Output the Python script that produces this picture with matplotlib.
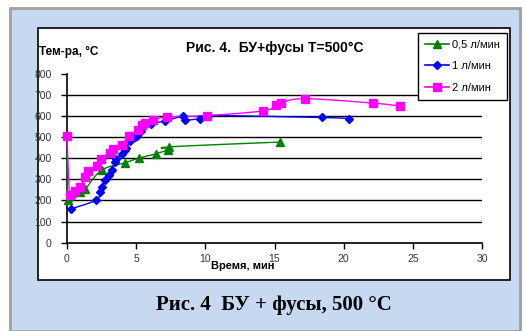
import matplotlib.pyplot as plt
from matplotlib.patches import Rectangle
import numpy as np

# time (min) and temperature (C) for each flow rate
t_05 = [0, 0.1, 0.95, 1.3, 2.5, 4.2, 5.2, 6.4, 7.3, 7.4, 15.4]
T_05 = [420, 200, 240, 252, 343, 378, 400, 420, 440, 453, 476]

t_1 = [0.3, 2.1, 2.4, 2.55, 2.75, 3.05, 3.25, 3.45, 3.55, 3.95, 4.2, 4.3, 4.55, 4.9,
       5.05, 5.35, 6.1, 7.1, 8.4, 8.5, 9.6, 10.2, 18.4, 20.4]
T_1 = [160, 201, 238, 265, 295, 320, 343, 380, 395, 418, 440, 450, 480, 500,
       505, 527, 560, 576, 598, 580, 587, 601, 592, 587]

t_2 = [0, 0.2, 0.58, 0.95, 1.3, 1.55, 2.15, 2.45, 3.1, 3.35, 3.95, 4.45, 5.15,
       5.4, 5.65, 6.25, 7.2, 10.1, 14.15, 15.1, 15.45, 17.2, 22.15, 24.1]
T_2 = [505, 225, 245, 262, 311, 340, 362, 398, 426, 445, 461, 505, 535,
       555, 566, 579, 594, 601, 623, 650, 662, 681, 660, 646]

labels = ['0,5 л/мин', '1 л/мин', '2 л/мин']
colors = ['#008000', '#0000FF', '#FF00FF']
markers = ['^', 'D', 's']


def smooth(x, y, n=12):
    # catmull-rom through the points, like excel smoothed lines
    x = np.asarray(x, float) / 30.0
    y = np.asarray(y, float) / 800.0 * 0.55
    p = np.column_stack([x, y])
    p = np.vstack([p[0], p, p[-1]])
    out = []
    for i in range(1, len(p) - 2):
        p0, p1, p2, p3 = p[i - 1], p[i], p[i + 1], p[i + 2]
        for s in np.linspace(0, 1, n, endpoint=False):
            out.append(0.5 * ((2 * p1) + (-p0 + p2) * s
                              + (2 * p0 - 5 * p1 + 4 * p2 - p3) * s ** 2
                              + (-p0 + 3 * p1 - 3 * p2 + p3) * s ** 3))
    out.append(p[-2])
    out = np.array(out)
    return out[:, 0] * 30.0, out[:, 1] / 0.55 * 800.0


W, H = 526, 331
fig = plt.figure(figsize=(W / 100, H / 100), dpi=100)
fig.patch.set_facecolor('white')

# light blue panel and white chart box (behind the axes)
fig.patches.append(Rectangle((10 / W, 0), 510 / W, 1 - 8 / H, transform=fig.transFigure,
                             facecolor='#C6D9F0', edgecolor='#A0A0A0', lw=2, zorder=-2))
fig.patches.append(Rectangle((38 / W, 1 - 280 / H), 472 / W, 252 / H, transform=fig.transFigure,
                             facecolor='white', edgecolor='black', lw=1.2, zorder=-1))

ax = fig.add_axes([67 / W, 1 - 242.7 / H, 415 / W, 169.2 / H])
ax.set_facecolor('none')

for (tx, ty), c, m, lab in zip([(t_05, T_05), (t_1, T_1), (t_2, T_2)], colors, markers, labels):
    sx, sy = smooth(tx, ty)
    ax.plot(sx, sy, color=c, lw=1, zorder=3, clip_on=False)
    ms = 4 if m == 'D' else 5.5
    if c == '#008000':
        ax.plot(tx[1:], ty[1:], ls='none', marker=m, color=c, ms=ms, zorder=4, clip_on=False)
    else:
        ax.plot(tx, ty, ls='none', marker=m, color=c, ms=ms, zorder=4, clip_on=False)
    ax.plot([], [], color=c, marker=m, ms=ms, lw=1.2, label=lab)

ax.set_xlim(0, 30)
ax.set_ylim(0, 800)
ax.set_xticks(range(0, 31, 5))
ax.set_yticks(range(0, 801, 100))
for v in range(100, 800, 100):
    ax.axhline(v, color='black', lw=1, zorder=2)
for s in ['top', 'right']:
    ax.spines[s].set_visible(False)
ax.spines['left'].set_linewidth(1.2)
ax.spines['bottom'].set_linewidth(1.2)
ax.tick_params(direction='out', length=4, width=1, labelsize=7.5, colors='black',
               labelcolor='#333333')
ax.tick_params(axis='x', pad=4)
ax.tick_params(axis='y', pad=7)
for lbl in ax.get_xticklabels() + ax.get_yticklabels():
    lbl.set_family('Liberation Sans')

fig.text(243 / W, 1 - 266 / H, 'Время, мин', ha='center', va='center',
         fontsize=8, fontweight='bold', family='Liberation Sans')
fig.text(39 / W, 1 - 52 / H, 'Тем-ра, °C', ha='left', va='center',
         fontsize=8.5, fontweight='bold', family='Liberation Sans')
fig.text(275 / W, 1 - 48 / H, 'Рис. 4.  БУ+фусы T=500°C', ha='center', va='center',
         fontsize=10, fontweight='bold', family='Liberation Sans')
fig.text(274 / W, 1 - 305 / H, 'Рис. 4  БУ + фусы, 500 °C', ha='center', va='center',
         fontsize=15, fontweight='bold', family='Liberation Serif')

leg = fig.legend(loc='upper left', bbox_to_anchor=(418 / W, 1 - 33 / H),
                 frameon=True, fancybox=False, edgecolor='black', framealpha=1,
                 handlelength=2.2, borderpad=0.6, labelspacing=1.05, handletextpad=0.3,
                 borderaxespad=0, prop={'family': 'Liberation Sans', 'size': 8})
leg.get_frame().set_linewidth(1)

fig.savefig('out.png', dpi=100)
